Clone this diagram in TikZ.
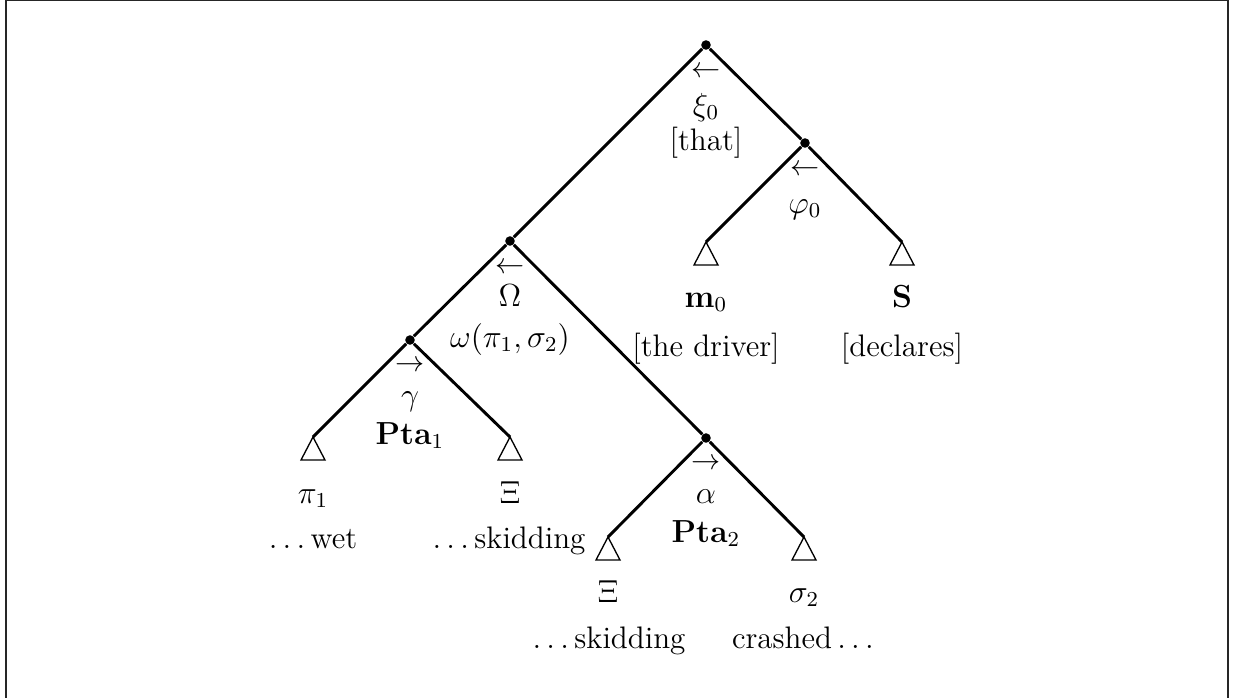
\documentclass[tikz,border=0pt]{standalone}
\begin{document}
\begin{tikzpicture}[x=0.376pt,y=-0.376pt,
  every node/.style={font=\fontsize{11.7}{14}\selectfont},
  dot/.style={circle,fill=black,inner sep=0pt,minimum size=3.6pt},
  branch/.style={line width=1.1pt},
  tri/.style={line width=0.5pt,line join=miter},
  lab/.style={anchor=base,inner sep=0pt},
  arr/.style={anchor=center,inner sep=0pt,font=\fontsize{10.8}{12}\selectfont}]
\useasboundingbox (0,0) rectangle (1235,697);
\draw[line width=0.7pt,black!85] (6,0.5) rectangle (1228,720);
% internal nodes
\node[dot] (r) at (706,45) {};
\node[dot] (p) at (805,143) {};
\node[dot] (o) at (510,241) {};
\node[dot] (g) at (410,340) {};
\node[dot] (a) at (706,438) {};
% leaves (triangle apexes)
\coordinate (m) at (706,242);
\coordinate (s) at (902,242);
\coordinate (pi) at (313,437);
\coordinate (xa) at (510,437);
\coordinate (xb) at (608,537);
\coordinate (sg) at (804,537);
% branches
\draw[branch] (r) -- (o);
\draw[branch] (r) -- (p);
\draw[branch] (p) -- (m);
\draw[branch] (p) -- (s);
\draw[branch] (o) -- (g);
\draw[branch] (o) -- (a);
\draw[branch] (g) -- (pi);
\draw[branch] (g) -- (xa);
\draw[branch] (a) -- (xb);
\draw[branch] (a) -- (sg);
% triangles
\foreach \t in {m,s,pi,xa,xb,sg}{
  \draw[tri] (\t) -- ++(-12,23) -- ++(24,0) -- cycle;
}
% labels of internal nodes
\node[arr] (ra) at (706,72) {$\leftarrow$};
\node[lab] (rl) at (706,115) {$\xi_0$};
\node[lab] (rt) at (706,150) {[that]};
\node[arr] (pa) at (805,170) {$\leftarrow$};
\node[lab] (pl) at (805,213) {$\varphi_0$};
\node[arr] (oa) at (510,268) {$\leftarrow$};
\node[lab] (ol) at (510,306) {$\Omega$};
\node[lab] (ot) at (510,347) {$\omega(\pi_1,\sigma_2)$};
\node[arr] (ga) at (410,366) {$\rightarrow$};
\node[lab] (gl) at (410,405) {$\gamma$};
\node[lab] (gt) at (410,444) {$\mathbf{Pta}_1$};
\node[arr] (aa) at (706,464) {$\rightarrow$};
\node[lab] (al) at (706,503) {$\alpha$};
\node[lab] (at) at (706,542) {$\mathbf{Pta}_2$};
% labels of leaves
\node[lab] (ml) at (706,307) {$\mathbf{m}_0$};
\node[lab] (mt) at (706,356) {[the driver]};
\node[lab] (sl) at (902,307) {$\mathbf{S}$};
\node[lab] (st) at (902,356) {[declares]};
\node[lab] (pil) at (313,503) {$\pi_1$};
\node[lab] (pit) at (313,548) {$\ldots$\,wet};
\node[lab] (xal) at (510,503) {$\Xi$};
\node[lab] (xat) at (509,548) {$\ldots$\,skidding};
\node[lab] (xbl) at (608,602) {$\Xi$};
\node[lab] (xbt) at (609,648) {$\ldots$\,skidding};
\node[lab] (sgl) at (804,602) {$\sigma_2$};
\node[lab] (sgt) at (803,648) {crashed\,$\ldots$};
\end{tikzpicture}
\end{document}
